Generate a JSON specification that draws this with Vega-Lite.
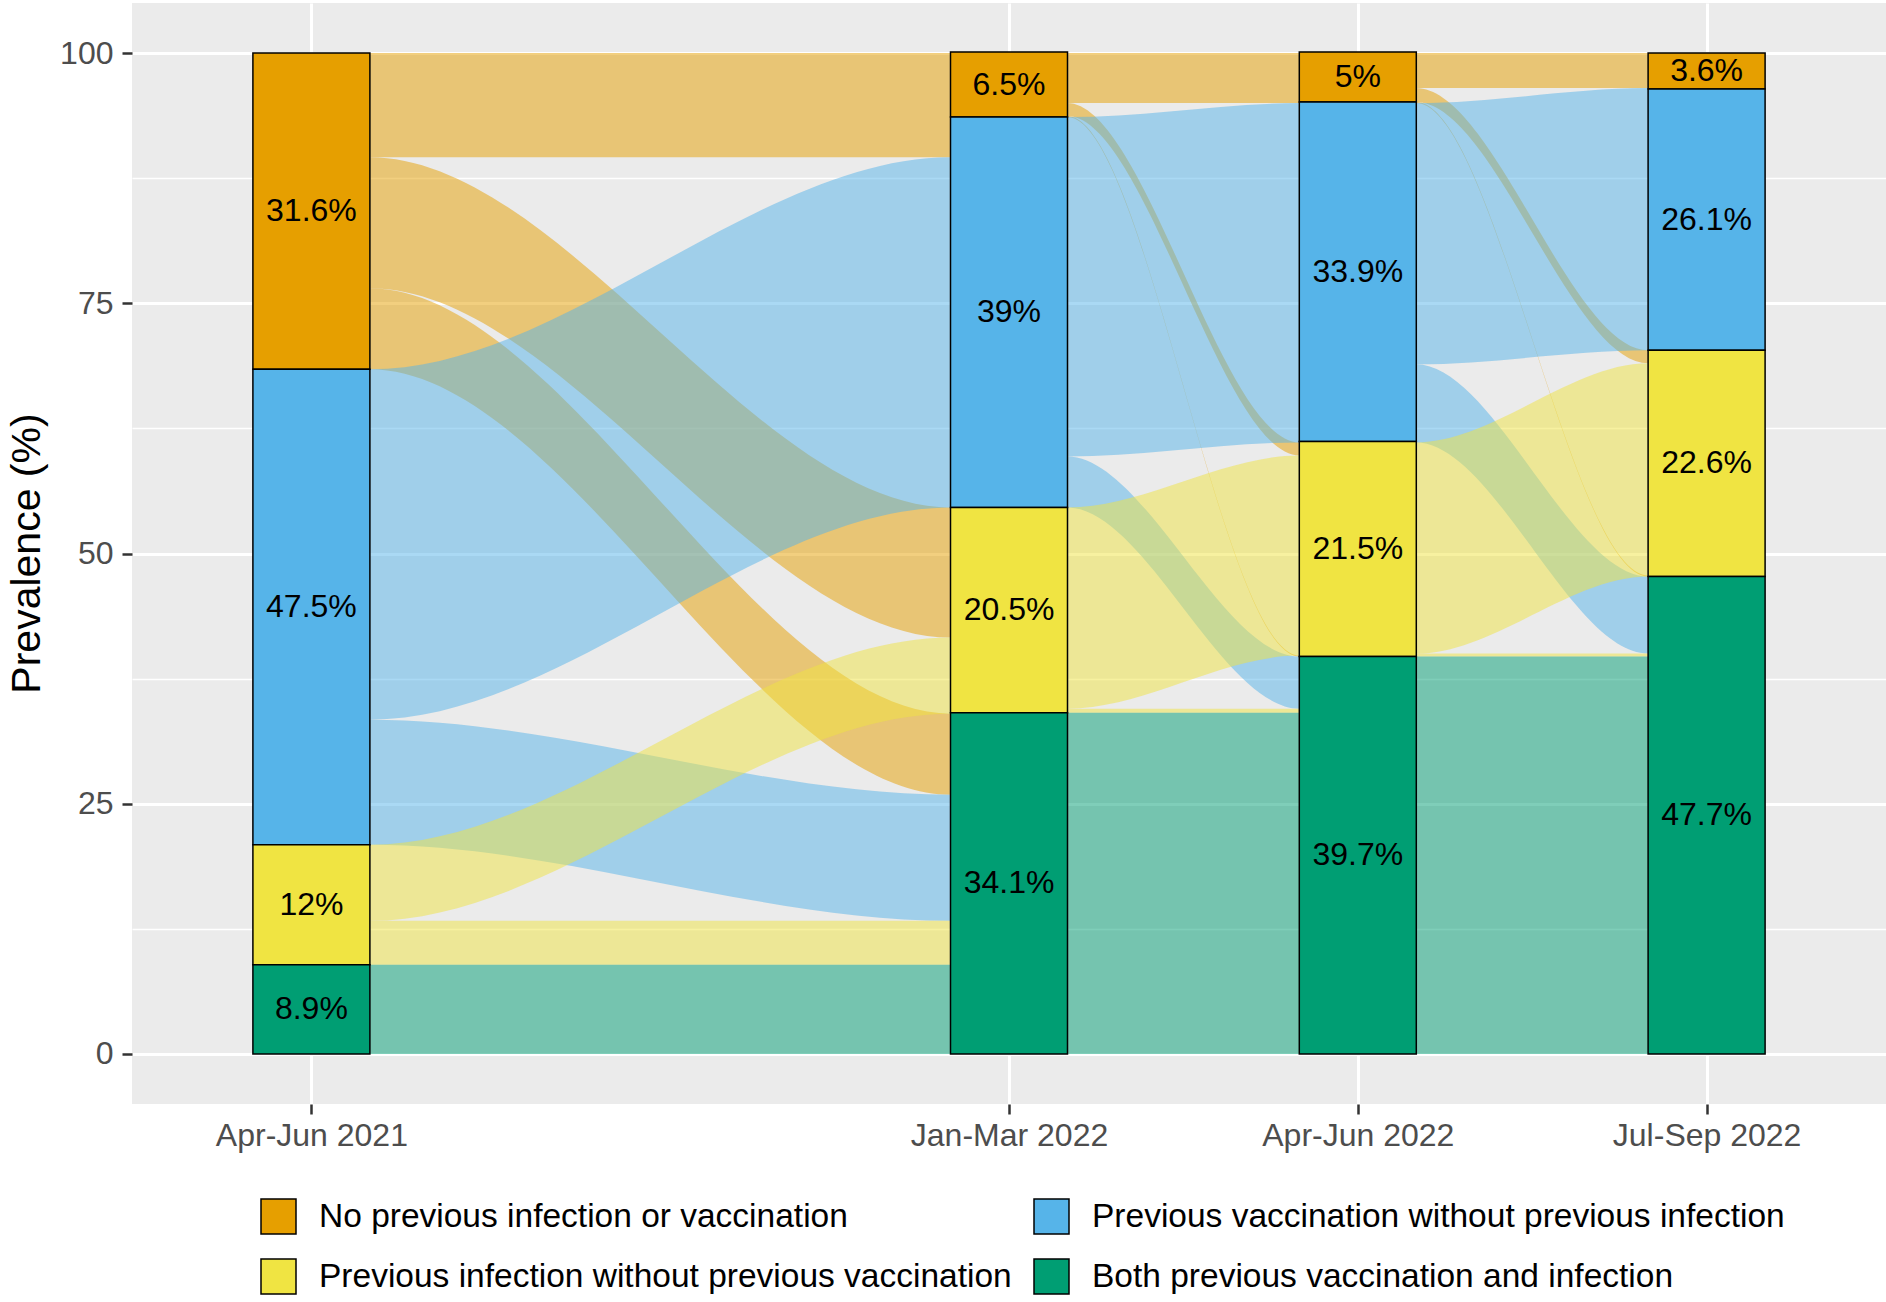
{
  "$schema": "https://vega.github.io/schema/vega-lite/v6.json",
  "width": 1754,
  "height": 1101,
  "autosize": {"type": "none"},
  "padding": {"left": 132, "top": 3, "right": 0, "bottom": 198},
  "background": "white",
  "config": {
    "view": {"fill": "#EBEBEB", "stroke": null},
    "font": "Liberation Sans",
    "legend": {
      "orient": "none",
      "legendX": 128,
      "legendY": 1195,
      "columns": 2,
      "labelFont": "Liberation Sans",
      "labelFontSize": 33.5,
      "labelColor": "black",
      "labelLimit": 2000,
      "symbolType": "square",
      "symbolSize": 1225,
      "symbolStrokeColor": "black",
      "symbolStrokeWidth": 1.5,
      "symbolOpacity": 1,
      "labelOffset": 22,
      "columnPadding": 19,
      "rowPadding": 19
    }
  },
  "datasets": {
    "strata": [
      {"stage": 1, "state": "No previous infection or vaccination", "pct": 31.6, "label": "31.6%", "k": 4},
      {"stage": 1, "state": "Previous vaccination without previous infection", "pct": 47.5, "label": "47.5%", "k": 3},
      {"stage": 1, "state": "Previous infection without previous vaccination", "pct": 12, "label": "12%", "k": 2},
      {"stage": 1, "state": "Both previous vaccination and infection", "pct": 8.9, "label": "8.9%", "k": 1},
      {"stage": 3, "state": "No previous infection or vaccination", "pct": 6.5, "label": "6.5%", "k": 4},
      {"stage": 3, "state": "Previous vaccination without previous infection", "pct": 39, "label": "39%", "k": 3},
      {"stage": 3, "state": "Previous infection without previous vaccination", "pct": 20.5, "label": "20.5%", "k": 2},
      {"stage": 3, "state": "Both previous vaccination and infection", "pct": 34.1, "label": "34.1%", "k": 1},
      {"stage": 4, "state": "No previous infection or vaccination", "pct": 5, "label": "5%", "k": 4},
      {"stage": 4, "state": "Previous vaccination without previous infection", "pct": 33.9, "label": "33.9%", "k": 3},
      {"stage": 4, "state": "Previous infection without previous vaccination", "pct": 21.5, "label": "21.5%", "k": 2},
      {"stage": 4, "state": "Both previous vaccination and infection", "pct": 39.7, "label": "39.7%", "k": 1},
      {"stage": 5, "state": "No previous infection or vaccination", "pct": 3.6, "label": "3.6%", "k": 4},
      {"stage": 5, "state": "Previous vaccination without previous infection", "pct": 26.1, "label": "26.1%", "k": 3},
      {"stage": 5, "state": "Previous infection without previous vaccination", "pct": 22.6, "label": "22.6%", "k": 2},
      {"stage": 5, "state": "Both previous vaccination and infection", "pct": 47.7, "label": "47.7%", "k": 1}
    ],
    "flows": [
      {"flow": "f01", "state": "No previous infection or vaccination", "x": 1, "lo": 89.6, "hi": 100},
      {"flow": "f01", "state": "No previous infection or vaccination", "x": 1.1667, "lo": 89.6, "hi": 100},
      {"flow": "f01", "state": "No previous infection or vaccination", "x": 2.8333, "lo": 89.6, "hi": 100},
      {"flow": "f01", "state": "No previous infection or vaccination", "x": 3, "lo": 89.6, "hi": 100},
      {"flow": "f02", "state": "No previous infection or vaccination", "x": 1, "lo": 76.5, "hi": 89.6},
      {"flow": "f02", "state": "No previous infection or vaccination", "x": 1.1667, "lo": 76.5, "hi": 89.6},
      {"flow": "f02", "state": "No previous infection or vaccination", "x": 2.8333, "lo": 41.6, "hi": 54.6},
      {"flow": "f02", "state": "No previous infection or vaccination", "x": 3, "lo": 41.6, "hi": 54.6},
      {"flow": "f03", "state": "No previous infection or vaccination", "x": 1, "lo": 68.4, "hi": 76.5},
      {"flow": "f03", "state": "No previous infection or vaccination", "x": 1.1667, "lo": 68.4, "hi": 76.5},
      {"flow": "f03", "state": "No previous infection or vaccination", "x": 2.8333, "lo": 25.9, "hi": 34.0},
      {"flow": "f03", "state": "No previous infection or vaccination", "x": 3, "lo": 25.9, "hi": 34.0},
      {"flow": "f04", "state": "No previous infection or vaccination", "x": 3, "lo": 95.0, "hi": 100},
      {"flow": "f04", "state": "No previous infection or vaccination", "x": 3.1667, "lo": 95.0, "hi": 100},
      {"flow": "f04", "state": "No previous infection or vaccination", "x": 3.8333, "lo": 95.0, "hi": 100},
      {"flow": "f04", "state": "No previous infection or vaccination", "x": 4, "lo": 95.0, "hi": 100},
      {"flow": "f05", "state": "No previous infection or vaccination", "x": 3, "lo": 93.7, "hi": 95.0},
      {"flow": "f05", "state": "No previous infection or vaccination", "x": 3.1667, "lo": 93.7, "hi": 95.0},
      {"flow": "f05", "state": "No previous infection or vaccination", "x": 3.8333, "lo": 59.8, "hi": 61.1},
      {"flow": "f05", "state": "No previous infection or vaccination", "x": 4, "lo": 59.8, "hi": 61.1},
      {"flow": "f06", "state": "No previous infection or vaccination", "x": 3, "lo": 93.6, "hi": 93.7},
      {"flow": "f06", "state": "No previous infection or vaccination", "x": 3.1667, "lo": 93.6, "hi": 93.7},
      {"flow": "f06", "state": "No previous infection or vaccination", "x": 3.8333, "lo": 39.7, "hi": 39.8},
      {"flow": "f06", "state": "No previous infection or vaccination", "x": 4, "lo": 39.7, "hi": 39.8},
      {"flow": "f07", "state": "No previous infection or vaccination", "x": 4, "lo": 96.5, "hi": 100},
      {"flow": "f07", "state": "No previous infection or vaccination", "x": 4.1667, "lo": 96.5, "hi": 100},
      {"flow": "f07", "state": "No previous infection or vaccination", "x": 4.8333, "lo": 96.5, "hi": 100},
      {"flow": "f07", "state": "No previous infection or vaccination", "x": 5, "lo": 96.5, "hi": 100},
      {"flow": "f08", "state": "No previous infection or vaccination", "x": 4, "lo": 95.1, "hi": 96.5},
      {"flow": "f08", "state": "No previous infection or vaccination", "x": 4.1667, "lo": 95.1, "hi": 96.5},
      {"flow": "f08", "state": "No previous infection or vaccination", "x": 4.8333, "lo": 69.0, "hi": 70.3},
      {"flow": "f08", "state": "No previous infection or vaccination", "x": 5, "lo": 69.0, "hi": 70.3},
      {"flow": "f09", "state": "No previous infection or vaccination", "x": 4, "lo": 95.0, "hi": 95.1},
      {"flow": "f09", "state": "No previous infection or vaccination", "x": 4.1667, "lo": 95.0, "hi": 95.1},
      {"flow": "f09", "state": "No previous infection or vaccination", "x": 4.8333, "lo": 47.7, "hi": 47.8},
      {"flow": "f09", "state": "No previous infection or vaccination", "x": 5, "lo": 47.7, "hi": 47.8},
      {"flow": "f10", "state": "Previous vaccination without previous infection", "x": 1, "lo": 33.4, "hi": 68.4},
      {"flow": "f10", "state": "Previous vaccination without previous infection", "x": 1.1667, "lo": 33.4, "hi": 68.4},
      {"flow": "f10", "state": "Previous vaccination without previous infection", "x": 2.8333, "lo": 54.6, "hi": 89.6},
      {"flow": "f10", "state": "Previous vaccination without previous infection", "x": 3, "lo": 54.6, "hi": 89.6},
      {"flow": "f11", "state": "Previous vaccination without previous infection", "x": 1, "lo": 20.9, "hi": 33.4},
      {"flow": "f11", "state": "Previous vaccination without previous infection", "x": 1.1667, "lo": 20.9, "hi": 33.4},
      {"flow": "f11", "state": "Previous vaccination without previous infection", "x": 2.8333, "lo": 13.3, "hi": 25.9},
      {"flow": "f11", "state": "Previous vaccination without previous infection", "x": 3, "lo": 13.3, "hi": 25.9},
      {"flow": "f12", "state": "Previous vaccination without previous infection", "x": 3, "lo": 59.7, "hi": 93.6},
      {"flow": "f12", "state": "Previous vaccination without previous infection", "x": 3.1667, "lo": 59.7, "hi": 93.6},
      {"flow": "f12", "state": "Previous vaccination without previous infection", "x": 3.8333, "lo": 61.1, "hi": 95.0},
      {"flow": "f12", "state": "Previous vaccination without previous infection", "x": 4, "lo": 61.1, "hi": 95.0},
      {"flow": "f13", "state": "Previous vaccination without previous infection", "x": 3, "lo": 54.6, "hi": 59.7},
      {"flow": "f13", "state": "Previous vaccination without previous infection", "x": 3.1667, "lo": 54.6, "hi": 59.7},
      {"flow": "f13", "state": "Previous vaccination without previous infection", "x": 3.8333, "lo": 34.5, "hi": 39.7},
      {"flow": "f13", "state": "Previous vaccination without previous infection", "x": 4, "lo": 34.5, "hi": 39.7},
      {"flow": "f14", "state": "Previous vaccination without previous infection", "x": 4, "lo": 68.9, "hi": 95.0},
      {"flow": "f14", "state": "Previous vaccination without previous infection", "x": 4.1667, "lo": 68.9, "hi": 95.0},
      {"flow": "f14", "state": "Previous vaccination without previous infection", "x": 4.8333, "lo": 70.3, "hi": 96.5},
      {"flow": "f14", "state": "Previous vaccination without previous infection", "x": 5, "lo": 70.3, "hi": 96.5},
      {"flow": "f15", "state": "Previous vaccination without previous infection", "x": 4, "lo": 61.1, "hi": 68.9},
      {"flow": "f15", "state": "Previous vaccination without previous infection", "x": 4.1667, "lo": 61.1, "hi": 68.9},
      {"flow": "f15", "state": "Previous vaccination without previous infection", "x": 4.8333, "lo": 40.0, "hi": 47.7},
      {"flow": "f15", "state": "Previous vaccination without previous infection", "x": 5, "lo": 40.0, "hi": 47.7},
      {"flow": "f16", "state": "Previous infection without previous vaccination", "x": 1, "lo": 13.3, "hi": 20.9},
      {"flow": "f16", "state": "Previous infection without previous vaccination", "x": 1.1667, "lo": 13.3, "hi": 20.9},
      {"flow": "f16", "state": "Previous infection without previous vaccination", "x": 2.8333, "lo": 34.0, "hi": 41.6},
      {"flow": "f16", "state": "Previous infection without previous vaccination", "x": 3, "lo": 34.0, "hi": 41.6},
      {"flow": "f17", "state": "Previous infection without previous vaccination", "x": 1, "lo": 8.9, "hi": 13.3},
      {"flow": "f17", "state": "Previous infection without previous vaccination", "x": 1.1667, "lo": 8.9, "hi": 13.3},
      {"flow": "f17", "state": "Previous infection without previous vaccination", "x": 2.8333, "lo": 8.9, "hi": 13.3},
      {"flow": "f17", "state": "Previous infection without previous vaccination", "x": 3, "lo": 8.9, "hi": 13.3},
      {"flow": "f18", "state": "Previous infection without previous vaccination", "x": 3, "lo": 34.5, "hi": 54.6},
      {"flow": "f18", "state": "Previous infection without previous vaccination", "x": 3.1667, "lo": 34.5, "hi": 54.6},
      {"flow": "f18", "state": "Previous infection without previous vaccination", "x": 3.8333, "lo": 39.8, "hi": 59.8},
      {"flow": "f18", "state": "Previous infection without previous vaccination", "x": 4, "lo": 39.8, "hi": 59.8},
      {"flow": "f19", "state": "Previous infection without previous vaccination", "x": 3, "lo": 34.1, "hi": 34.5},
      {"flow": "f19", "state": "Previous infection without previous vaccination", "x": 3.1667, "lo": 34.1, "hi": 34.5},
      {"flow": "f19", "state": "Previous infection without previous vaccination", "x": 3.8333, "lo": 34.1, "hi": 34.5},
      {"flow": "f19", "state": "Previous infection without previous vaccination", "x": 4, "lo": 34.1, "hi": 34.5},
      {"flow": "f20", "state": "Previous infection without previous vaccination", "x": 4, "lo": 40.0, "hi": 61.1},
      {"flow": "f20", "state": "Previous infection without previous vaccination", "x": 4.1667, "lo": 40.0, "hi": 61.1},
      {"flow": "f20", "state": "Previous infection without previous vaccination", "x": 4.8333, "lo": 47.7, "hi": 69.0},
      {"flow": "f20", "state": "Previous infection without previous vaccination", "x": 5, "lo": 47.7, "hi": 69.0},
      {"flow": "f21", "state": "Previous infection without previous vaccination", "x": 4, "lo": 39.7, "hi": 40.0},
      {"flow": "f21", "state": "Previous infection without previous vaccination", "x": 4.1667, "lo": 39.7, "hi": 40.0},
      {"flow": "f21", "state": "Previous infection without previous vaccination", "x": 4.8333, "lo": 39.7, "hi": 40.0},
      {"flow": "f21", "state": "Previous infection without previous vaccination", "x": 5, "lo": 39.7, "hi": 40.0},
      {"flow": "f22", "state": "Both previous vaccination and infection", "x": 1, "lo": 0, "hi": 8.9},
      {"flow": "f22", "state": "Both previous vaccination and infection", "x": 1.1667, "lo": 0, "hi": 8.9},
      {"flow": "f22", "state": "Both previous vaccination and infection", "x": 2.8333, "lo": 0, "hi": 8.9},
      {"flow": "f22", "state": "Both previous vaccination and infection", "x": 3, "lo": 0, "hi": 8.9},
      {"flow": "f23", "state": "Both previous vaccination and infection", "x": 3, "lo": 0, "hi": 34.1},
      {"flow": "f23", "state": "Both previous vaccination and infection", "x": 3.1667, "lo": 0, "hi": 34.1},
      {"flow": "f23", "state": "Both previous vaccination and infection", "x": 3.8333, "lo": 0, "hi": 34.1},
      {"flow": "f23", "state": "Both previous vaccination and infection", "x": 4, "lo": 0, "hi": 34.1},
      {"flow": "f24", "state": "Both previous vaccination and infection", "x": 4, "lo": 0, "hi": 39.7},
      {"flow": "f24", "state": "Both previous vaccination and infection", "x": 4.1667, "lo": 0, "hi": 39.7},
      {"flow": "f24", "state": "Both previous vaccination and infection", "x": 4.8333, "lo": 0, "hi": 39.7},
      {"flow": "f24", "state": "Both previous vaccination and infection", "x": 5, "lo": 0, "hi": 39.7}
    ]
  },
  "layer": [
    {
      "data": {"name": "flows"},
      "mark": {"type": "area", "interpolate": "monotone", "fillOpacity": 0.5, "strokeWidth": 0},
      "encoding": {
        "x": {
          "field": "x", "type": "quantitative",
          "scale": {"domain": [0.5, 5.5], "nice": false, "zero": false},
          "axis": {
            "values": [1, 3, 4, 5],
            "labelExpr": "datum.value == 1 ? 'Apr-Jun 2021' : datum.value == 3 ? 'Jan-Mar 2022' : datum.value == 4 ? 'Apr-Jun 2022' : 'Jul-Sep 2022'",
            "title": null,
            "grid": true, "gridColor": "white", "gridWidth": 3,
            "domain": false,
            "ticks": true, "tickColor": "#333333", "tickSize": 10, "tickWidth": 2.5,
            "labelFont": "Liberation Sans", "labelFontSize": 32, "labelColor": "#4D4D4D",
            "labelPadding": 6, "labelFlush": false, "labelOverlap": false, "labelLimit": 600
          }
        },
        "y": {
          "field": "lo", "type": "quantitative",
          "scale": {"domain": [-5, 105], "nice": false, "zero": false},
          "axis": {
            "values": [0, 25, 50, 75, 100],
            "title": "Prevalence (%)",
            "grid": true, "gridColor": "white", "gridWidth": 3,
            "domain": false,
            "tickColor": "#333333", "tickSize": 10, "tickWidth": 2.5,
            "labelFont": "Liberation Sans", "labelFontSize": 32, "labelColor": "#4D4D4D",
            "labelPadding": 9,
            "titleFont": "Liberation Sans", "titleFontSize": 41, "titleFontWeight": "normal", "titleColor": "black",
            "titleAngle": -90, "titleAlign": "center", "titleBaseline": "middle",
            "titleX": -105, "titleY": 550
          }
        },
        "y2": {"field": "hi"},
        "fill": {
          "field": "state", "type": "nominal",
          "scale": {
            "domain": ["No previous infection or vaccination", "Previous vaccination without previous infection", "Previous infection without previous vaccination", "Both previous vaccination and infection"],
            "range": ["#E69F00", "#56B4E9", "#F0E442", "#009E73"]
          },
          "legend": null
        },
        "detail": {"field": "flow", "type": "nominal"}
      }
    },
    {
      "data": {"name": "strata"},
      "transform": [
        {"stack": "pct", "groupby": ["stage"], "sort": [{"field": "k", "order": "ascending"}], "as": ["y0", "y1"]}
      ],
      "mark": {"type": "bar", "width": 117, "stroke": "black", "strokeWidth": 1.5, "fillOpacity": 1},
      "encoding": {
        "x": {"field": "stage", "type": "quantitative", "scale": {"domain": [0.5, 5.5], "nice": false, "zero": false}, "axis": null},
        "y": {
          "field": "y0", "type": "quantitative",
          "scale": {"domain": [-5, 105], "nice": false, "zero": false},
          "axis": {
            "orient": "right", "values": [12.5, 37.5, 62.5, 87.5],
            "grid": true, "gridColor": "white", "gridWidth": 1.5,
            "labels": false, "ticks": false, "domain": false, "title": null
          }
        },
        "y2": {"field": "y1"},
        "fill": {
          "field": "state", "type": "nominal",
          "scale": {
            "domain": ["No previous infection or vaccination", "Previous vaccination without previous infection", "Previous infection without previous vaccination", "Both previous vaccination and infection"],
            "range": ["#E69F00", "#56B4E9", "#F0E442", "#009E73"]
          },
          "legend": {
            "title": null,
            "values": ["No previous infection or vaccination", "Previous infection without previous vaccination", "Previous vaccination without previous infection", "Both previous vaccination and infection"],
            "orient": "none", "legendX": 128, "legendY": 1195, "columns": 2,
            "encode": {"symbols": {"update": {"stroke": {"value": "black"}, "strokeWidth": {"value": 1.5}, "opacity": {"value": 1}}}}
          }
        }
      }
    },
    {
      "data": {"name": "strata"},
      "transform": [
        {"stack": "pct", "groupby": ["stage"], "sort": [{"field": "k", "order": "ascending"}], "as": ["y0", "y1"]},
        {"fold": ["y0", "y1"], "as": ["edge", "yy"]}
      ],
      "mark": {"type": "text", "font": "Liberation Sans", "fontSize": 32, "fill": "black", "align": "center", "baseline": "middle"},
      "encoding": {
        "x": {"field": "stage", "type": "quantitative", "scale": {"domain": [0.5, 5.5], "nice": false, "zero": false}, "axis": null},
        "y": {"field": "yy", "aggregate": "mean", "type": "quantitative", "scale": {"domain": [-5, 105], "nice": false, "zero": false}, "axis": null},
        "text": {"field": "label", "type": "nominal"},
        "detail": {"field": "state", "type": "nominal"}
      }
    }
  ],
  "resolve": {"axis": {"x": "independent", "y": "independent"}, "legend": {"fill": "independent"}}
}
